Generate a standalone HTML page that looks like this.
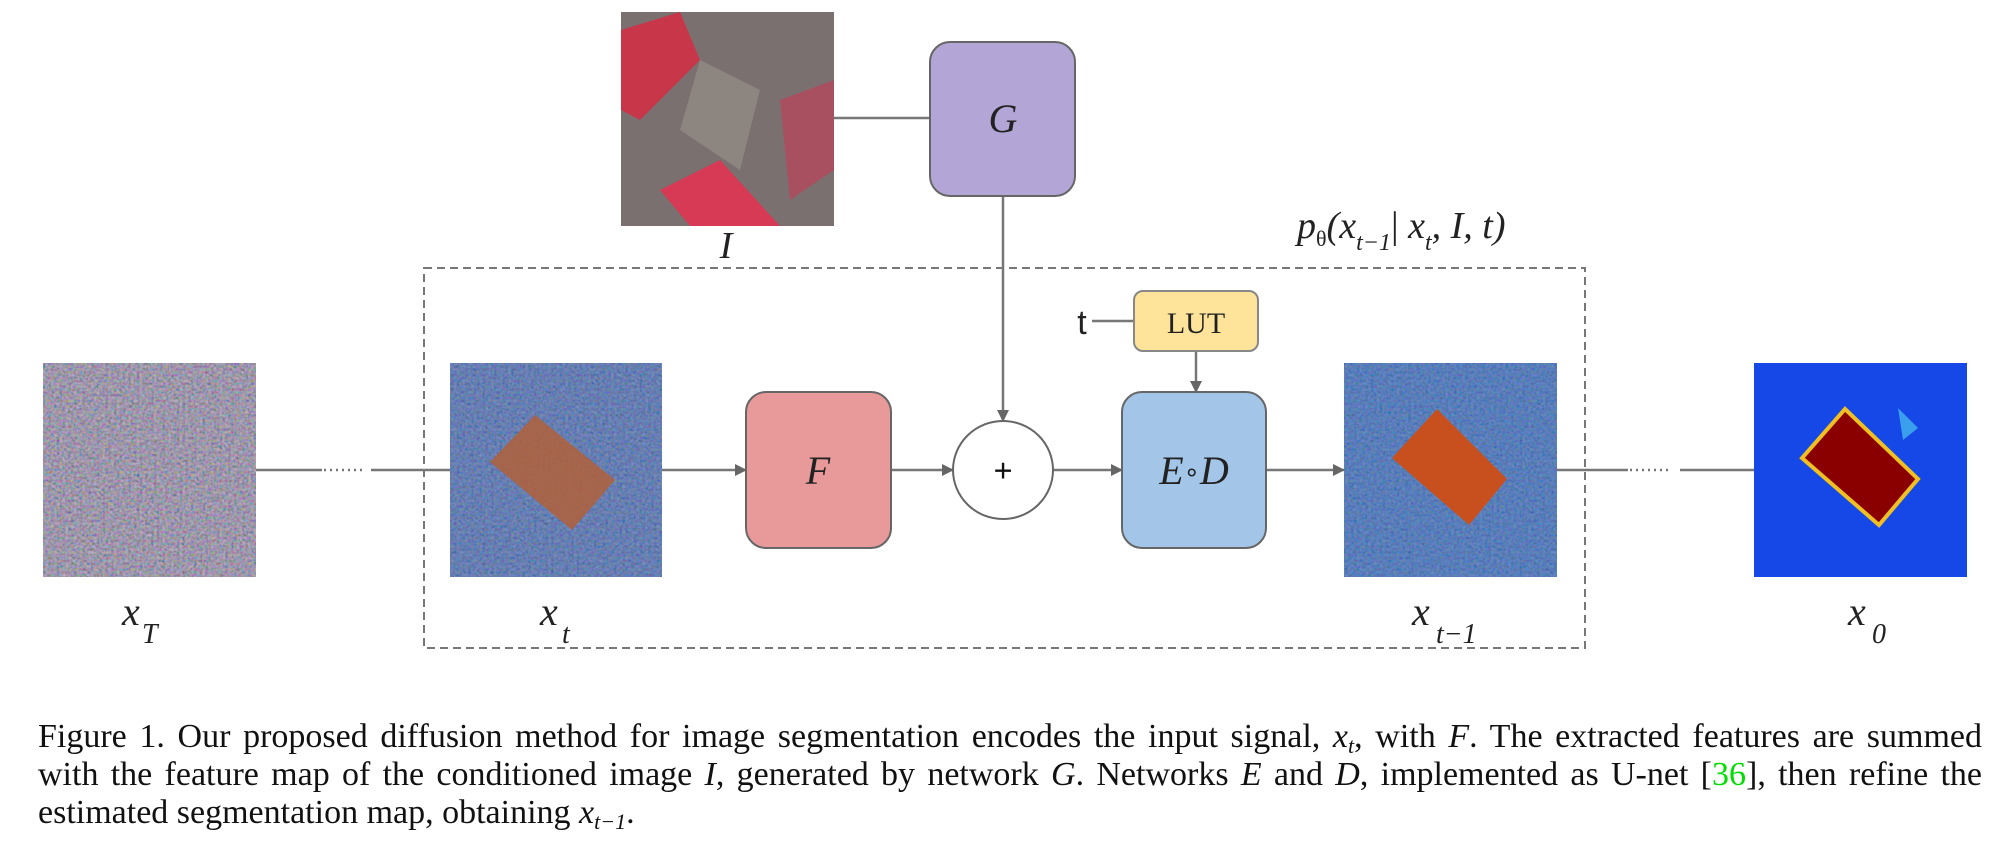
<!DOCTYPE html>
<html><head><meta charset="utf-8"><style>
html,body{margin:0;padding:0;background:#fff;width:1998px;height:854px;overflow:hidden}
#cap{position:absolute;left:38px;top:718px;width:1944px;font-family:"Liberation Serif",serif;font-size:34px;line-height:38px;color:#111;white-space:nowrap}
#cap div{text-align:justify;text-align-last:justify;white-space:normal;height:38px}
#cap div.last{text-align-last:left}
#cap i{font-style:italic}
#cap sub{font-size:22px;line-height:0;vertical-align:-6px}
</style></head><body>
<svg width="1998" height="700" style="position:absolute;left:0;top:0" font-family="Liberation Serif, serif">
<defs>
<filter id="nz" x="0" y="0" width="100%" height="100%"><feTurbulence type="fractalNoise" baseFrequency="0.35" numOctaves="2" seed="3"/><feColorMatrix type="matrix" values="1.6 0 0 0 -0.3  0 1.2 0 0 -0.1  0 0 1.6 0 -0.2  0 0 0 0 1"/></filter>
<marker id="ar" markerWidth="12" markerHeight="12" refX="11" refY="6" orient="auto" markerUnits="userSpaceOnUse"><path d="M0,0 L12,6 L0,12 z" fill="#666"/></marker>
</defs>
<rect x="424" y="268" width="1161" height="380" fill="none" stroke="#777" stroke-width="2" stroke-dasharray="8,5"/>
<rect x="43" y="363" width="213" height="214" fill="#7b6b86"/>
<rect x="43" y="363" width="213" height="214" filter="url(#nz)" opacity="0.55"/>
<rect x="450" y="363" width="212" height="214" fill="#3a5ea6"/>
<rect x="450" y="363" width="212" height="214" filter="url(#nz)" opacity="0.35"/>
<polygon points="535,415 615,480 572,530 490,462" fill="#b0603a" opacity="0.85"/>
<rect x="1344" y="363" width="213" height="214" fill="#2f63b3"/>
<rect x="1344" y="363" width="213" height="214" filter="url(#nz)" opacity="0.3"/>
<polygon points="1437,409 1507,479 1469,525 1392,458" fill="#c8501f"/>
<rect x="1754" y="363" width="213" height="214" fill="#1548e6"/>
<polygon points="1898,408 1918,428 1903,440" fill="#3aa0ee"/>
<polygon points="1845,409 1918,479 1879,525 1802,458" fill="#8a0000" stroke="#f0c020" stroke-width="4"/>
<rect x="621" y="12" width="213" height="214" fill="#7a7070"/>
<polygon points="621,30 680,12 700,60 640,120 621,110" fill="#c8364a"/>
<polygon points="660,190 720,160 780,226 690,226" fill="#d63a55"/>
<polygon points="780,100 834,80 834,170 790,200" fill="#a85060"/>
<polygon points="700,60 760,90 740,170 680,130" fill="#8c8580"/>
<line x1="256" y1="470" x2="322" y2="470" stroke="#777" stroke-width="2.5"/>
<line x1="324" y1="470" x2="366" y2="470" stroke="#777" stroke-width="2.5" stroke-dasharray="2,4"/>
<line x1="371" y1="470" x2="450" y2="470" stroke="#777" stroke-width="2.5"/>
<line x1="1557" y1="470" x2="1628" y2="470" stroke="#777" stroke-width="2.5"/>
<line x1="1630" y1="470" x2="1672" y2="470" stroke="#777" stroke-width="2.5" stroke-dasharray="2,4"/>
<line x1="1680" y1="470" x2="1754" y2="470" stroke="#777" stroke-width="2.5"/>
<line x1="662" y1="470" x2="746" y2="470" stroke="#777" stroke-width="2.5" marker-end="url(#ar)"/>
<line x1="891" y1="470" x2="953" y2="470" stroke="#777" stroke-width="2.5" marker-end="url(#ar)"/>
<line x1="1053" y1="470" x2="1122" y2="470" stroke="#777" stroke-width="2.5" marker-end="url(#ar)"/>
<line x1="1266" y1="470" x2="1344" y2="470" stroke="#777" stroke-width="2.5" marker-end="url(#ar)"/>
<line x1="834" y1="118" x2="930" y2="118" stroke="#777" stroke-width="2.5"/>
<line x1="1003" y1="196" x2="1003" y2="421" stroke="#777" stroke-width="2.5" marker-end="url(#ar)"/>
<line x1="1196" y1="351" x2="1196" y2="392" stroke="#777" stroke-width="2.5" marker-end="url(#ar)"/>
<line x1="1092" y1="321" x2="1134" y2="321" stroke="#777" stroke-width="2.5"/>
<rect x="930" y="42" width="145" height="154" rx="20" fill="#b3a6d6" stroke="#666" stroke-width="2"/>
<rect x="746" y="392" width="145" height="156" rx="20" fill="#e89a9a" stroke="#666" stroke-width="2"/>
<rect x="1122" y="392" width="144" height="156" rx="20" fill="#a3c6e8" stroke="#666" stroke-width="2"/>
<rect x="1134" y="291" width="124" height="60" rx="9" fill="#fde49a" stroke="#888" stroke-width="2"/>
<ellipse cx="1003" cy="470" rx="50" ry="49" fill="#fff" stroke="#666" stroke-width="2"/>
<text x="1003" y="132" font-size="40" font-style="italic" text-anchor="middle" fill="#222">G</text>
<text x="818" y="484" font-size="40" font-style="italic" text-anchor="middle" fill="#222">F</text>
<text x="1194" y="484" font-size="40" font-style="italic" text-anchor="middle" fill="#222">E<tspan font-style="normal" font-size="26" dy="-3">∘</tspan><tspan dy="3">D</tspan></text>
<text x="1003" y="482" font-size="34" font-weight="bold" text-anchor="middle" fill="#111">+</text>
<text x="1196" y="333" font-size="30" text-anchor="middle" fill="#222">LUT</text>
<text x="1082" y="334" font-size="34" text-anchor="middle" fill="#222" font-family="Liberation Sans, sans-serif">t</text>
<text x="726" y="258" font-size="38" font-style="italic" text-anchor="middle" fill="#222">I</text>
<text x="122" y="625" font-size="40" font-style="italic" fill="#222">x</text><text x="142" y="643" font-size="28" font-style="italic" fill="#222">T</text>
<text x="540" y="625" font-size="40" font-style="italic" fill="#222">x</text><text x="562" y="643" font-size="28" font-style="italic" fill="#222">t</text>
<text x="1412" y="625" font-size="40" font-style="italic" fill="#222">x</text><text x="1436" y="643" font-size="28" font-style="italic" fill="#222">t−1</text>
<text x="1848" y="625" font-size="40" font-style="italic" fill="#222">x</text><text x="1872" y="643" font-size="28" font-style="italic" fill="#222">0</text>
<text x="1297" y="238" font-size="38" font-style="italic" fill="#222">p<tspan font-style="normal" font-size="22" dy="8">θ</tspan><tspan dy="-8">(x</tspan><tspan font-size="24" dy="12">t−1</tspan><tspan dy="-12" font-style="normal">|</tspan><tspan> x</tspan><tspan font-size="24" dy="12">t</tspan><tspan dy="-12">, I, t)</tspan></text>
</svg>
<div id="cap">
<div>Figure 1. Our proposed diffusion method for image segmentation encodes the input signal, <i>x<sub>t</sub></i>, with <i>F</i>. The extracted features are summed</div>
<div>with the feature map of the conditioned image <i>I</i>, generated by network <i>G</i>. Networks <i>E</i> and <i>D</i>, implemented as U-net [<span style="color:#00dd00">36</span>], then refine the</div>
<div class="last">estimated segmentation map, obtaining <i>x<sub>t−1</sub></i>.</div>
</div>
</body></html>
